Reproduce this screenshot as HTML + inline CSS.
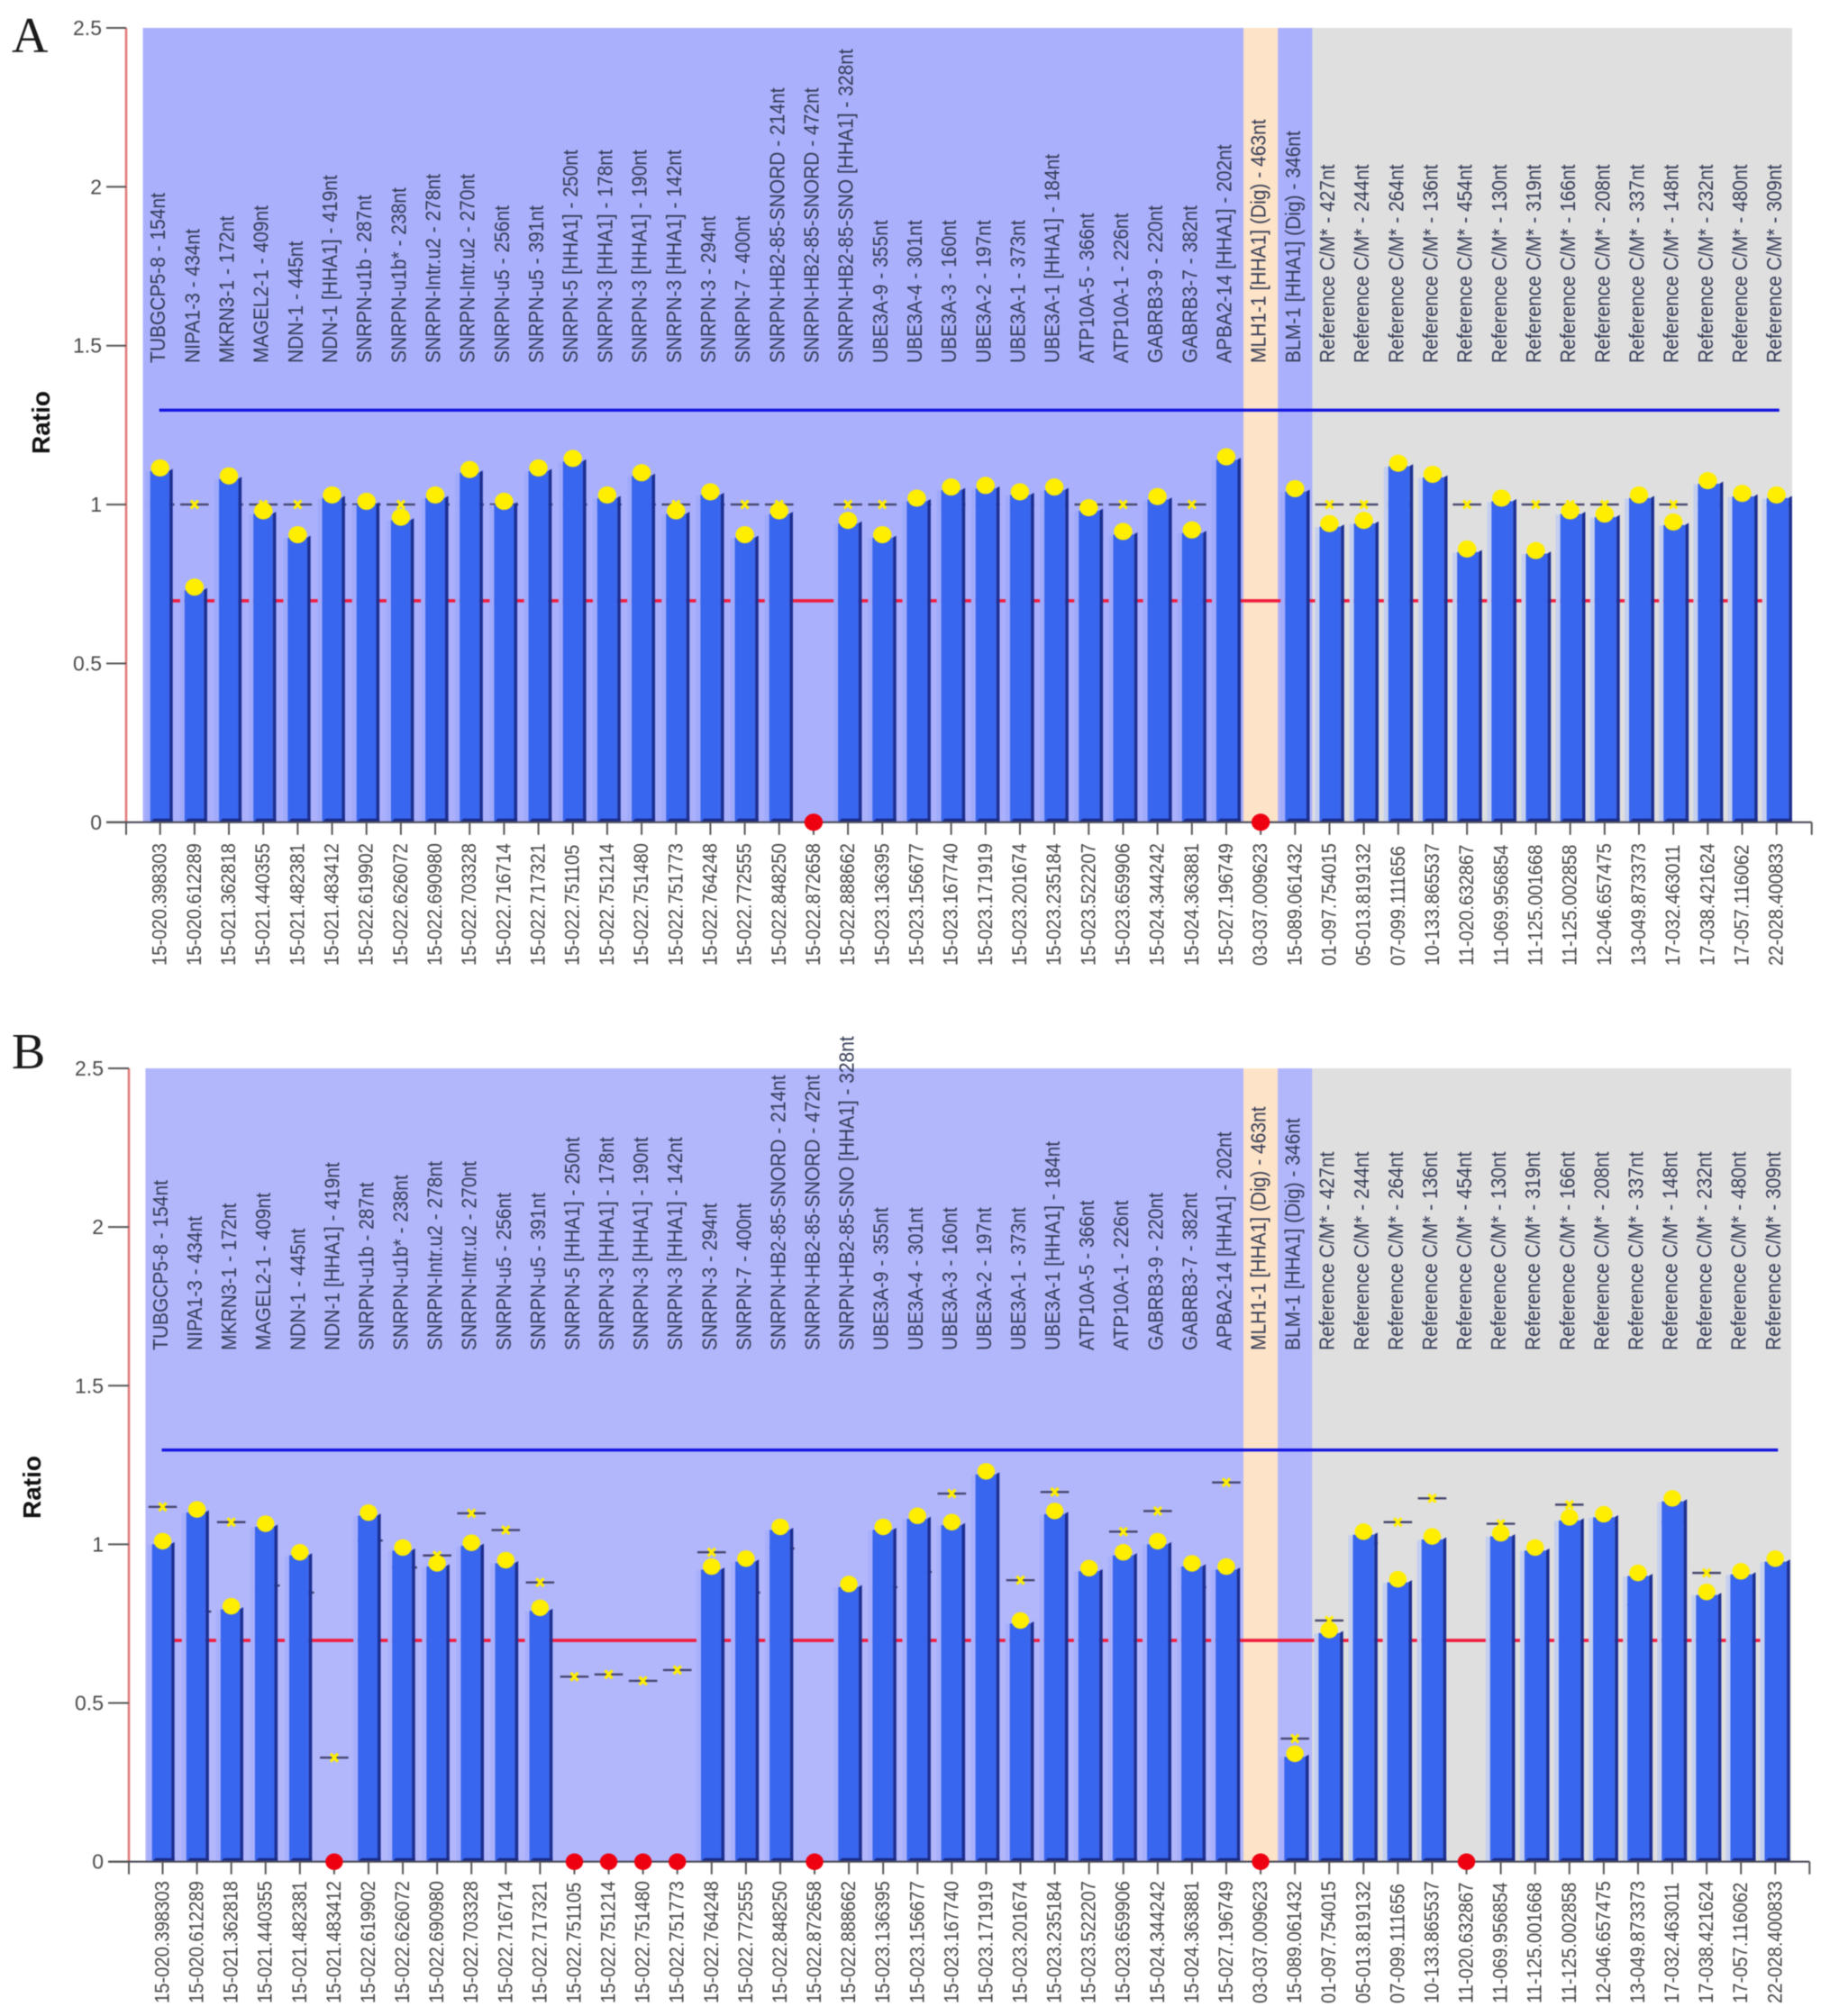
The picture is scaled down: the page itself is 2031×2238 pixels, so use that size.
<!DOCTYPE html>
<html lang="en">
<head>
<meta charset="utf-8">
<title>MLPA ratio charts A and B</title>
<style>
html,body{margin:0;padding:0;background:#fff;}
#stage{display:block;width:2031px;height:2238px;filter:blur(0.6px);}
text{font-family:"Liberation Sans",sans-serif;}
</style>
</head>
<body>
<svg id="stage" xmlns="http://www.w3.org/2000/svg" width="2031" height="2238" viewBox="0 0 2031 2238">
<rect x="0" y="0" width="2031" height="2238" fill="#ffffff"></rect>
</svg>
<script>
var sampleIds = ["15-020.398303","15-020.612289","15-021.362818","15-021.440355","15-021.482381","15-021.483412","15-022.619902","15-022.626072","15-022.690980","15-022.703328","15-022.716714","15-022.717321","15-022.751105","15-022.751214","15-022.751480","15-022.751773","15-022.764248","15-022.772555","15-022.848250","15-022.872658","15-022.888662","15-023.136395","15-023.156677","15-023.167740","15-023.171919","15-023.201674","15-023.235184","15-023.522207","15-023.659906","15-024.344242","15-024.363881","15-027.196749","03-037.009623","15-089.061432","01-097.754015","05-013.819132","07-099.111656","10-133.865537","11-020.632867","11-069.956854","11-125.001668","11-125.002858","12-046.657475","13-049.873373","17-032.463011","17-038.421624","17-057.116062","22-028.400833"];
var probeNames = ["TUBGCP5-8 - 154nt","NIPA1-3 - 434nt","MKRN3-1 - 172nt","MAGEL2-1 - 409nt","NDN-1 - 445nt","NDN-1 [HHA1] - 419nt","SNRPN-u1b - 287nt","SNRPN-u1b* - 238nt","SNRPN-Intr.u2 - 278nt","SNRPN-Intr.u2 - 270nt","SNRPN-u5 - 256nt","SNRPN-u5 - 391nt","SNRPN-5 [HHA1] - 250nt","SNRPN-3 [HHA1] - 178nt","SNRPN-3 [HHA1] - 190nt","SNRPN-3 [HHA1] - 142nt","SNRPN-3 - 294nt","SNRPN-7 - 400nt","SNRPN-HB2-85-SNORD - 214nt","SNRPN-HB2-85-SNORD - 472nt","SNRPN-HB2-85-SNO [HHA1] - 328nt","UBE3A-9 - 355nt","UBE3A-4 - 301nt","UBE3A-3 - 160nt","UBE3A-2 - 197nt","UBE3A-1 - 373nt","UBE3A-1 [HHA1] - 184nt","ATP10A-5 - 366nt","ATP10A-1 - 226nt","GABRB3-9 - 220nt","GABRB3-7 - 382nt","APBA2-14 [HHA1] - 202nt","MLH1-1 [HHA1] (Dig) - 463nt","BLM-1 [HHA1] (Dig) - 346nt","Reference C/M* - 427nt","Reference C/M* - 244nt","Reference C/M* - 264nt","Reference C/M* - 136nt","Reference C/M* - 454nt","Reference C/M* - 130nt","Reference C/M* - 319nt","Reference C/M* - 166nt","Reference C/M* - 208nt","Reference C/M* - 337nt","Reference C/M* - 148nt","Reference C/M* - 232nt","Reference C/M* - 480nt","Reference C/M* - 309nt"];
var probeGroups = ["target","target","target","target","target","target","target","target","target","target","target","target","target","target","target","target","target","target","target","target","target","target","target","target","target","target","target","target","target","target","target","target","digest","target","reference","reference","reference","reference","reference","reference","reference","reference","reference","reference","reference","reference","reference","reference"];
var ratiosA = [1.115,0.74,1.09,0.98,0.905,1.03,1.01,0.96,1.03,1.11,1.01,1.115,1.145,1.03,1.1,0.98,1.04,0.905,0.98,0,0.95,0.905,1.02,1.055,1.06,1.04,1.055,0.99,0.915,1.025,0.92,1.15,0,1.05,0.94,0.95,1.13,1.095,0.86,1.02,0.855,0.98,0.97,1.03,0.945,1.075,1.035,1.03];
var sampleRefA = [1,1,1,1,1,1,1,1,1,1,1,1,1,1,1,1,1,1,1,null,1,1,1,1,1,1,1,1,1,1,1,1,null,1,1,1,1,1,1,1,1,1,1,1,1,1,1,1];
var ratiosB = [1.01,1.11,0.805,1.065,0.975,0,1.1,0.99,0.94,1.005,0.95,0.8,0,0,0,0,0.93,0.955,1.055,0,0.875,1.055,1.09,1.07,1.23,0.76,1.105,0.925,0.975,1.01,0.94,0.93,0,0.34,0.73,1.04,0.89,1.025,0,1.035,0.99,1.085,1.095,0.91,1.145,0.85,0.915,0.955];
var sampleRefB = [1.118,0.788,1.07,0.87,0.848,0.328,1.012,0.927,0.965,1.098,1.045,0.88,0.583,0.59,0.57,0.604,0.975,0.848,0.987,null,null,0.865,0.913,1.16,null,0.887,1.165,null,1.04,1.105,0.865,1.195,null,0.388,0.76,1.004,1.07,1.145,null,1.065,null,1.125,1.07,0.81,1.07,0.91,0.848,null];
var yTickLabels = ["0","0.5","1","1.5","2","2.5"];
var yTickValues = [0,0.5,1,1.5,2,2.5];
var upperThreshold = 1.3;
var lowerThreshold = 0.7;

var panelA = {id:"a",letter:"A",letterY:58,ratios:ratiosA,refs:sampleRefA,axisX:140,top:31,base:912.8,tick0:177.7,step:38.17,bandRight:1989,probeY:403,idY:1072,axisEnd:2010.7,
  ratioX:55,ratioY:469,redStart:190,redEnd:1958,target:"#aab0fb",glow:"#a0aafa",ry:9.5,rx:10.2,tickLeft:118,barOffset:11};
var panelB = {id:"b",letter:"B",letterY:1186,ratios:ratiosB,refs:sampleRefB,axisX:143,top:1186,base:2066.7,tick0:180.5,step:38.08,bandRight:1988,probeY:1499,idY:2224,axisEnd:2008.3,
  ratioX:45,ratioY:1651,redStart:192,redEnd:1958,target:"#b2b6fb",glow:"#a8b0fb",ry:9.2,rx:9.7,tickLeft:120,barOffset:11.8};

var SVGNS = "http://www.w3.org/2000/svg";
var stage = document.getElementById("stage");

function make(parent, tag, attrs, text) {
  var el = document.createElementNS(SVGNS, tag);
  for (var k in attrs) { el.setAttribute(k, attrs[k]); }
  if (text !== undefined) { el.textContent = text; }
  parent.appendChild(el);
  return el;
}

function drawPanel(p) {
  var yScale = function (v) { return p.base - (v / 2.5) * (p.base - p.top); };
  var xScale = function (i) { return p.tick0 + i * p.step; };
  var half = p.step / 2;
  var el, i, x, y, v;

  var g = make(stage, "g", {});
  
  

  el = make(g, "text", {x: 13, y: p.letterY, "font-size": 56, fill: "#1a1a1a", style: 'font-family:"Liberation Serif",serif'}, p.letter);
  
  

  /* background bands, one per probe */
  for (i = 0; i < probeGroups.length; i++) {
    var group = probeGroups[i];
    var fill = group === "reference" ? "#dfdfdf" : (group === "digest" ? "#fde3c8" : p.target);
    var bandLeft = xScale(i) - half;
    var bandWidth = Math.min(p.step + 0.6, p.bandRight - bandLeft);
    el = make(g, "rect", {x: bandLeft, y: p.top, width: bandWidth, height: p.base - p.top, fill: fill});
    
    
  }

  /* probe names */
  for (i = 0; i < probeNames.length; i++) {
    x = xScale(i) + 5.5;
    el = make(g, "text", {x: 0, y: 0, "font-size": 21, fill: "#333a55", transform: "translate(" + x + " " + p.probeY + ") rotate(-90) scale(1 1.12)"}, probeNames[i]);
    
    
  }

  /* lower threshold */
  y = yScale(lowerThreshold) + 1;
  el = make(g, "line", {x1: p.redStart, x2: p.redEnd, y1: y, y2: y, stroke: "#f01c3c", "stroke-width": 3.6});
  
  

  /* reference sample markers, behind the bars */
  for (i = 0; i < p.refs.length; i++) {
    v = p.refs[i];
    if (v === null) { continue; }
    x = xScale(i); y = yScale(v);
    el = make(g, "line", {x1: x - 15.8, x2: x + 15.8, y1: y, y2: y, stroke: "#46466e", "stroke-width": 2.4});
    
    
    el = make(g, "path", {d: "M" + (x - 4) + " " + (y - 4.5) + "L" + (x + 4) + " " + (y + 4.5) + "M" + (x + 4) + " " + (y - 4.5) + "L" + (x - 4) + " " + (y + 4.5), stroke: "#ffee00", "stroke-width": 3.2, fill: "none"});
    
    
  }

  /* bars */
  for (i = 0; i < p.ratios.length; i++) {
    v = p.ratios[i];
    if (v === 0) { continue; }
    x = xScale(i); y = yScale(v);
    var barWidth = 25 + 3.2 * i / 47;
    var left = x - p.barOffset, right = left + barWidth, seam = right - 3.6;
    el = make(g, "rect", {x: left - 5, y: y + 4, width: 5, height: p.base - y - 4, fill: probeGroups[i] === "reference" ? "#c4cff0" : p.glow});
    
    
    el = make(g, "rect", {x: left, y: y + 3.4, width: seam - left, height: p.base - y - 3.4, fill: "#3866ee"});
    
    
    el = make(g, "polygon", {points: seam + "," + (y + 3) + " " + right + "," + (y + 1) + " " + right + "," + p.base + " " + seam + "," + p.base, fill: "#1c2f92"});
    
    
    el = make(g, "polygon", {points: left + "," + p.base + " " + (left + 4) + "," + (p.base - 4) + " " + right + "," + (p.base - 4) + " " + right + "," + p.base, fill: "#1a2b86"});
    
    
  }

  /* upper threshold */
  y = yScale(upperThreshold) + 1;
  el = make(g, "line", {x1: xScale(0) - 1, x2: xScale(p.ratios.length - 1) + 3, y1: y, y2: y, stroke: "#1414e0", "stroke-width": 3.4});
  
  

  /* axes */
  el = make(g, "line", {x1: p.axisX, x2: p.axisX, y1: p.top, y2: p.base, stroke: "#e27a7a", "stroke-width": 2.6});
  
  
  el = make(g, "line", {x1: p.tickLeft, x2: p.axisEnd, y1: p.base, y2: p.base, stroke: "#4c4c5a", "stroke-width": 2.2});
  
  
  el = make(g, "line", {x1: p.axisX, x2: p.axisX, y1: p.base, y2: p.base + 14, stroke: "#555", "stroke-width": 2});
  
  
  el = make(g, "line", {x1: p.axisEnd, x2: p.axisEnd, y1: p.base, y2: p.base + 14, stroke: "#555", "stroke-width": 2});
  
  

  for (i = 0; i < yTickValues.length; i++) {
    y = yScale(yTickValues[i]);
    el = make(g, "line", {x1: p.tickLeft, x2: p.axisX, y1: y, y2: y, stroke: "#555", "stroke-width": 2});
    
    
    el = make(g, "text", {x: p.tickLeft - 5, y: y + 8, "font-size": 23, fill: "#4a4a4a", "text-anchor": "end"}, yTickLabels[i]);
    
    
  }

  el = make(g, "text", {x: p.ratioX, y: p.ratioY, "font-size": 28, "font-weight": "bold", fill: "#111", "text-anchor": "middle", transform: "rotate(-90 " + p.ratioX + " " + p.ratioY + ")"}, "Ratio");
  
  

  /* x ticks and sample ids */
  for (i = 0; i < sampleIds.length; i++) {
    x = xScale(i);
    el = make(g, "line", {x1: x, x2: x, y1: p.base, y2: p.base + 14, stroke: "#555", "stroke-width": 2});
    
    
    el = make(g, "text", {x: 0, y: 0, "font-size": 20.2, fill: "#444", transform: "translate(" + (x + 7) + " " + p.idY + ") rotate(-90) scale(1 1.12)"}, sampleIds[i]);
    
    
  }

  /* ratio dots */
  for (i = 0; i < p.ratios.length; i++) {
    v = p.ratios[i];
    x = xScale(i); y = yScale(v);
    el = make(g, "ellipse", {cx: x, cy: y, rx: p.rx, ry: p.ry, fill: v === 0 ? "#ee0010" : "#ffee00"});
    
    
  }
}

drawPanel(panelA);
drawPanel(panelB);
</script>
</body>
</html>
